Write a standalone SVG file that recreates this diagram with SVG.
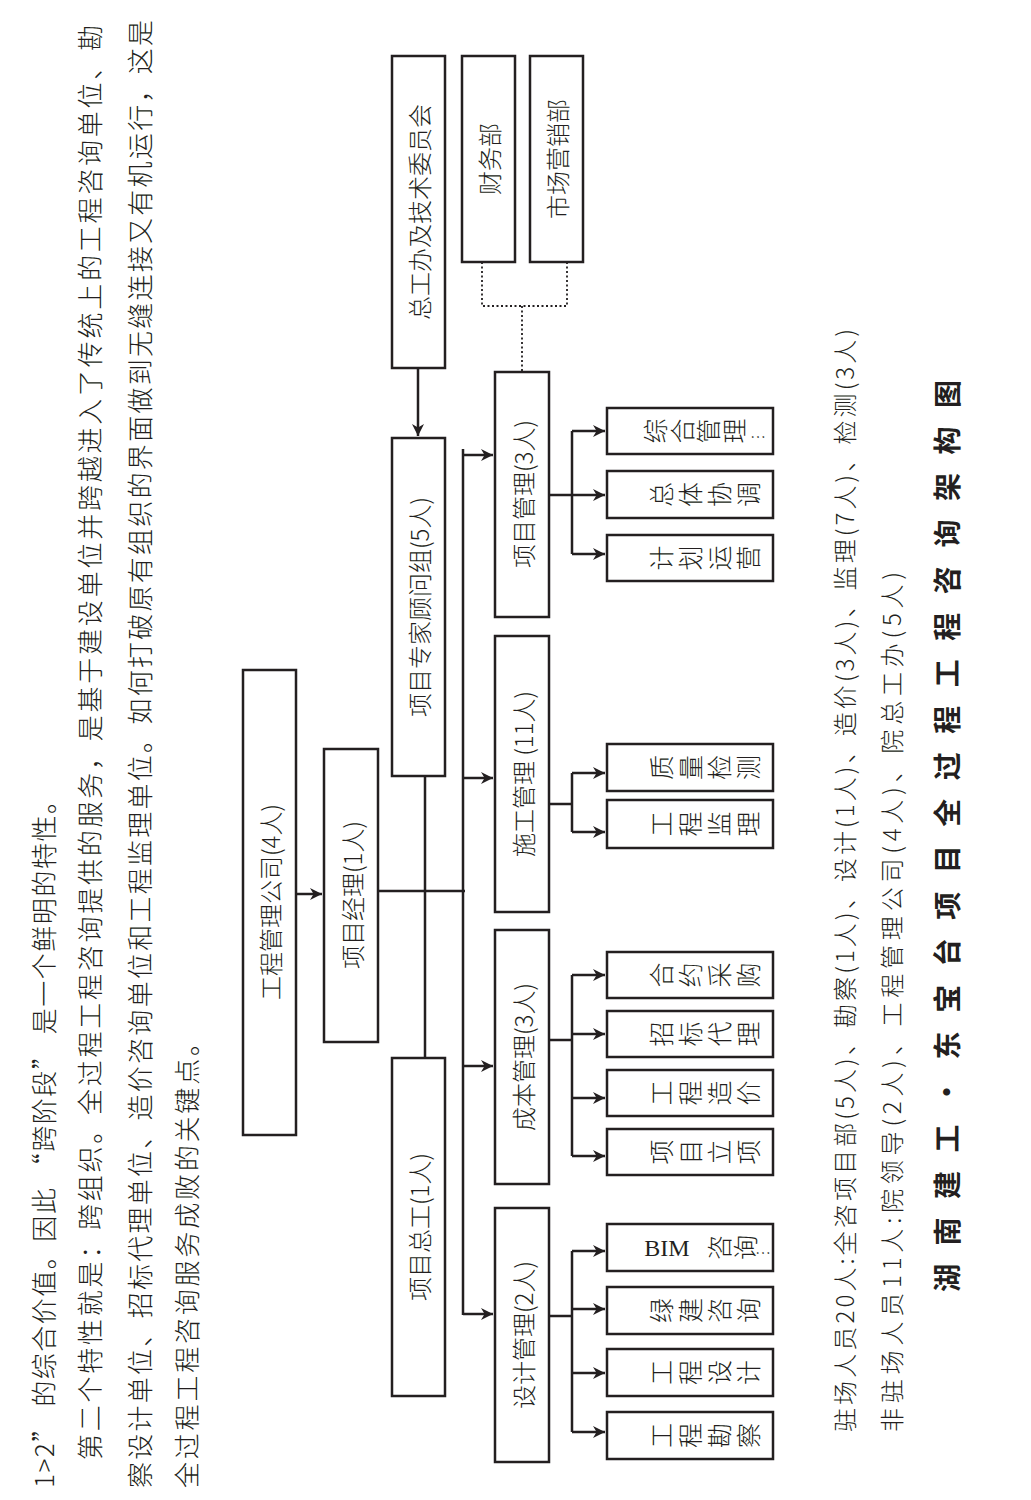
<svg xmlns="http://www.w3.org/2000/svg" width="1031" height="1500" viewBox="0 0 1031 1500">
<style>
text{font-family:"Noto Sans CJK SC","Liberation Serif",sans-serif;fill:#231f20;font-weight:300}
.b{fill:#fff;stroke:#231f20;stroke-width:2.5}
.c{fill:none;stroke:#231f20;stroke-width:2.5}
.d{fill:none;stroke:#231f20;stroke-width:1.8;stroke-dasharray:2 2.5}
.t{font-size:24px;text-anchor:middle;dominant-baseline:central}
.p{font-size:26px;dominant-baseline:central}
.ch{font-size:25px;text-anchor:middle;dominant-baseline:central}
</style>
<defs>
<marker id="m" viewBox="0 0 10 10" refX="10" refY="5" markerWidth="15" markerHeight="12" orient="auto" markerUnits="userSpaceOnUse"><path d="M0,0 L10,5 L0,10 L3,5 z" fill="#231f20"/></marker></defs>

<g id="body">
<text class="p" transform="translate(42,1488) rotate(-90)" textLength="700" lengthAdjust="spacing">1&gt;2” 的综合价值。因此 “跨阶段” 是一个鲜明的特性。</text>
<text class="p" transform="translate(88,1460) rotate(-90)" textLength="1435" lengthAdjust="spacing">第二个特性就是：跨组织。全过程工程咨询提供的服务，是基于建设单位并跨越进入了传统上的工程咨询单位、勘</text>
<text class="p" transform="translate(138,1488) rotate(-90)" textLength="1468" lengthAdjust="spacing">察设计单位、招标代理单位、造价咨询单位和工程监理单位。如何打破原有组织的界面做到无缝连接又有机运行，这是</text>
<text class="p" transform="translate(185,1488) rotate(-90)" textLength="458" lengthAdjust="spacing">全过程工程咨询服务成败的关键点。</text>
</g>

<g id="connectors">
<line class="c" x1="296" y1="894" x2="322" y2="894" marker-end="url(#m)"/>
<line class="c" x1="378" y1="891" x2="465" y2="891"/>
<line class="c" x1="425" y1="776" x2="425" y2="1058"/>
<line class="c" x1="418" y1="368" x2="418" y2="436" marker-end="url(#m)"/>
<path class="d" d="M482,262 V306 H567 V262 M522,306 V372"/>
<line class="c" x1="463" y1="449" x2="463" y2="1315"/>
<line class="c" x1="463" y1="455" x2="493" y2="455" marker-end="url(#m)"/>
<line class="c" x1="463" y1="778" x2="493" y2="778" marker-end="url(#m)"/>
<line class="c" x1="463" y1="1066" x2="493" y2="1066" marker-end="url(#m)"/>
<line class="c" x1="463" y1="1314" x2="493" y2="1314" marker-end="url(#m)"/>
<path class="c" d="M549,495 H572 M572,431 V554"/>
<line class="c" x1="572" y1="431" x2="605" y2="431" marker-end="url(#m)"/>
<line class="c" x1="572" y1="495" x2="605" y2="495" marker-end="url(#m)"/>
<line class="c" x1="572" y1="554" x2="605" y2="554" marker-end="url(#m)"/>
<path class="c" d="M549,804 H572 M572,773 V832"/>
<line class="c" x1="572" y1="773" x2="605" y2="773" marker-end="url(#m)"/>
<line class="c" x1="572" y1="832" x2="605" y2="832" marker-end="url(#m)"/>
<path class="c" d="M549,1040 H572 M572,975 V1156"/>
<line class="c" x1="572" y1="975" x2="605" y2="975" marker-end="url(#m)"/>
<line class="c" x1="572" y1="1034" x2="605" y2="1034" marker-end="url(#m)"/>
<line class="c" x1="572" y1="1098" x2="605" y2="1098" marker-end="url(#m)"/>
<line class="c" x1="572" y1="1156" x2="605" y2="1156" marker-end="url(#m)"/>
<path class="c" d="M549,1316 H572 M572,1251 V1432"/>
<line class="c" x1="572" y1="1251" x2="605" y2="1251" marker-end="url(#m)"/>
<line class="c" x1="572" y1="1309" x2="605" y2="1309" marker-end="url(#m)"/>
<line class="c" x1="572" y1="1373" x2="605" y2="1373" marker-end="url(#m)"/>
<line class="c" x1="572" y1="1432" x2="605" y2="1432" marker-end="url(#m)"/>
</g>

<g id="n-gcgl"><rect class="b" x="243" y="670" width="53" height="465"/><text class="t" transform="translate(269.5,902) rotate(-90)">工程管理公司(4人)</text></g>
<g id="n-xmjl"><rect class="b" x="324" y="749" width="54" height="293"/><text class="t" transform="translate(351,895) rotate(-90)">项目经理(1人)</text></g>
<g id="n-zjgw"><rect class="b" x="392" y="438" width="53" height="338"/><text class="t" transform="translate(418.5,607) rotate(-90)">项目专家顾问组(5人)</text></g>
<g id="n-xmzg"><rect class="b" x="392" y="1058" width="53" height="338"/><text class="t" transform="translate(418.5,1227) rotate(-90)">项目总工(1人)</text></g>
<g id="n-zgb"><rect class="b" x="392" y="56" width="53" height="312"/><text class="t" transform="translate(418.5,212) rotate(-90)">总工办及技术委员会</text></g>
<g id="n-cwb"><rect class="b" x="462" y="56" width="53" height="206"/><text class="t" transform="translate(488.5,159) rotate(-90)">财务部</text></g>
<g id="n-scyx"><rect class="b" x="530" y="56" width="53" height="206"/><text class="t" transform="translate(556.5,159) rotate(-90)">市场营销部</text></g>
<g id="n-xmgl"><rect class="b" x="495" y="372" width="54" height="245"/><text class="t" transform="translate(522,494) rotate(-90)">项目管理(3人)</text></g>
<g id="n-sggl"><rect class="b" x="495" y="636" width="54" height="276"/><text class="t" transform="translate(522,774) rotate(-90)">施工管理 (11人)</text></g>
<g id="n-cbgl"><rect class="b" x="495" y="930" width="54" height="254"/><text class="t" transform="translate(522,1057) rotate(-90)">成本管理(3人)</text></g>
<g id="n-sjgl"><rect class="b" x="495" y="1208" width="54" height="254"/><text class="t" transform="translate(522,1335) rotate(-90)">设计管理(2人)</text></g>

<g id="n-zhgl"><rect class="b" x="607" y="408" width="166" height="46"/>
<text class="ch" transform="translate(654,431) rotate(-90)">综</text><text class="ch" transform="translate(681,431) rotate(-90)">合</text><text class="ch" transform="translate(707,431) rotate(-90)">管</text><text class="ch" transform="translate(733,431) rotate(-90)">理</text><text class="ch" x="758" y="436" style="font-size:16px">…</text></g>
<g id="n-ztxt"><rect class="b" x="607" y="471" width="166" height="47"/>
<text class="ch" transform="translate(660,494.5) rotate(-90)">总</text><text class="ch" transform="translate(689,494.5) rotate(-90)">体</text><text class="ch" transform="translate(718,494.5) rotate(-90)">协</text><text class="ch" transform="translate(747,494.5) rotate(-90)">调</text></g>
<g id="n-jhyy"><rect class="b" x="607" y="535" width="166" height="46"/>
<text class="ch" transform="translate(660,558) rotate(-90)">计</text><text class="ch" transform="translate(689,558) rotate(-90)">划</text><text class="ch" transform="translate(718,558) rotate(-90)">运</text><text class="ch" transform="translate(747,558) rotate(-90)">营</text></g>
<g id="n-zljc"><rect class="b" x="607" y="744" width="166" height="47"/>
<text class="ch" transform="translate(660,767.5) rotate(-90)">质</text><text class="ch" transform="translate(689,767.5) rotate(-90)">量</text><text class="ch" transform="translate(718,767.5) rotate(-90)">检</text><text class="ch" transform="translate(747,767.5) rotate(-90)">测</text></g>
<g id="n-gcjl"><rect class="b" x="607" y="800" width="166" height="48"/>
<text class="ch" transform="translate(660,824) rotate(-90)">工</text><text class="ch" transform="translate(689,824) rotate(-90)">程</text><text class="ch" transform="translate(718,824) rotate(-90)">监</text><text class="ch" transform="translate(747,824) rotate(-90)">理</text></g>
<g id="n-hycg"><rect class="b" x="607" y="952" width="166" height="46"/>
<text class="ch" transform="translate(660,975) rotate(-90)">合</text><text class="ch" transform="translate(689,975) rotate(-90)">约</text><text class="ch" transform="translate(718,975) rotate(-90)">采</text><text class="ch" transform="translate(747,975) rotate(-90)">购</text></g>
<g id="n-zbdl"><rect class="b" x="607" y="1011" width="166" height="46"/>
<text class="ch" transform="translate(660,1034) rotate(-90)">招</text><text class="ch" transform="translate(689,1034) rotate(-90)">标</text><text class="ch" transform="translate(718,1034) rotate(-90)">代</text><text class="ch" transform="translate(747,1034) rotate(-90)">理</text></g>
<g id="n-gczj"><rect class="b" x="607" y="1070" width="166" height="46"/>
<text class="ch" transform="translate(660,1093) rotate(-90)">工</text><text class="ch" transform="translate(689,1093) rotate(-90)">程</text><text class="ch" transform="translate(718,1093) rotate(-90)">造</text><text class="ch" transform="translate(747,1093) rotate(-90)">价</text></g>
<g id="n-xmlx"><rect class="b" x="607" y="1129" width="166" height="46"/>
<text class="ch" transform="translate(660,1152) rotate(-90)">项</text><text class="ch" transform="translate(689,1152) rotate(-90)">目</text><text class="ch" transform="translate(718,1152) rotate(-90)">立</text><text class="ch" transform="translate(747,1152) rotate(-90)">项</text></g>
<g id="n-bim"><rect class="b" x="607" y="1224" width="166" height="47"/>
<text class="ch" x="667" y="1247.5" style="font-family:'Liberation Serif',serif;font-size:24px">BIM</text><text class="ch" transform="translate(718,1247.5) rotate(-90)">咨</text><text class="ch" transform="translate(744,1247.5) rotate(-90)">询</text><text class="ch" x="763" y="1252" style="font-size:16px">…</text></g>
<g id="n-ljzx"><rect class="b" x="607" y="1287" width="166" height="47"/>
<text class="ch" transform="translate(660,1310.5) rotate(-90)">绿</text><text class="ch" transform="translate(689,1310.5) rotate(-90)">建</text><text class="ch" transform="translate(718,1310.5) rotate(-90)">咨</text><text class="ch" transform="translate(747,1310.5) rotate(-90)">询</text></g>
<g id="n-gcsj"><rect class="b" x="607" y="1349" width="166" height="47"/>
<text class="ch" transform="translate(660,1372.5) rotate(-90)">工</text><text class="ch" transform="translate(689,1372.5) rotate(-90)">程</text><text class="ch" transform="translate(718,1372.5) rotate(-90)">设</text><text class="ch" transform="translate(747,1372.5) rotate(-90)">计</text></g>
<g id="n-gckc"><rect class="b" x="607" y="1412" width="166" height="47"/>
<text class="ch" transform="translate(660,1435.5) rotate(-90)">工</text><text class="ch" transform="translate(689,1435.5) rotate(-90)">程</text><text class="ch" transform="translate(718,1435.5) rotate(-90)">勘</text><text class="ch" transform="translate(747,1435.5) rotate(-90)">察</text></g>

<g id="notes">
<text class="p" style="font-size:24px" transform="translate(843,1432) rotate(-90)" textLength="1103" lengthAdjust="spacing">驻场人员20人:全咨项目部(5人)、勘察(1人)、设计(1人)、造价(3人)、监理(7人)、检测(3人)</text>
<text class="p" style="font-size:24px" transform="translate(890,1432) rotate(-90)" textLength="860" lengthAdjust="spacing">非驻场人员11人:院领导(2人)、工程管理公司(4人)、院总工办(5人)</text>
<text class="p" style="font-size:28px;font-weight:700" transform="translate(946,1292) rotate(-90)" textLength="912" lengthAdjust="spacing">湖南建工·东宝台项目全过程工程咨询架构图</text>
</g>
</svg>
